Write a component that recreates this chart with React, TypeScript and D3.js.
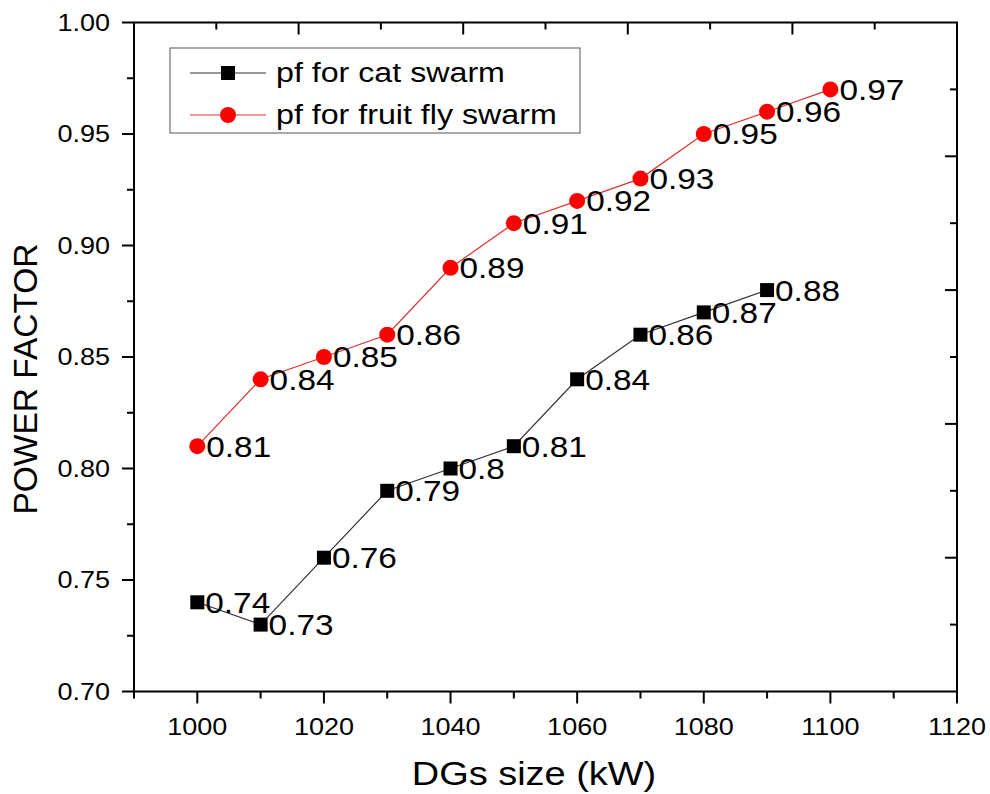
import * as d3 from 'd3';
import React, { useEffect, useRef } from 'react';

// DG sizes (kW) and power factor values
const catSizes = [1000, 1010, 1020, 1030, 1040, 1050, 1060, 1070, 1080, 1090];
const catPf = [0.74, 0.73, 0.76, 0.79, 0.8, 0.81, 0.84, 0.86, 0.87, 0.88];

const flySizes = [1000, 1010, 1020, 1030, 1040, 1050, 1060, 1070, 1080, 1090, 1100];
const flyPf = [0.81, 0.84, 0.85, 0.86, 0.89, 0.91, 0.92, 0.93, 0.95, 0.96, 0.97];

const xMajorTicks = [1000, 1020, 1040, 1060, 1080, 1100, 1120];
const xMinorTicks = [990, 1010, 1030, 1050, 1070, 1090, 1110];
const yMajorTicks = [0.7, 0.75, 0.8, 0.85, 0.9, 0.95, 1.0];
const yMinorTicks = [0.725, 0.775, 0.825, 0.875, 0.925, 0.975];
// the top / right mirror axes use their own 10-step scale
const mirrorMajor = [2, 4, 6, 8];
const mirrorMinor = [1, 3, 5, 7, 9];

const legendLabels = ['pf for cat swarm', 'pf for fruit fly swarm'];

const FONT = '"Liberation Sans", Arial, sans-serif';
const STRETCH = 1.15; // the original glyphs are a bit wider than Arial

export default function App() {
  const svgRef = useRef<SVGSVGElement | null>(null);
  const width = 990;
  const height = 794;

  useEffect(() => {
    const svg = d3.select(svgRef.current);
    svg.selectAll('*').remove();

    const margin = { top: 22.5, right: 33, bottom: 102.5, left: 134 };
    const x = d3
      .scaleLinear()
      .domain([990, 1120])
      .range([margin.left, width - margin.right]);
    const y = d3
      .scaleLinear()
      .domain([0.7, 1.0])
      .range([height - margin.bottom, margin.top]);
    const mx = d3.scaleLinear().domain([0, 10]).range(x.range());
    const my = d3.scaleLinear().domain([0, 10]).range([margin.top, height - margin.bottom]);

    const x0 = x.range()[0];
    const x1 = x.range()[1];
    const y0 = y.range()[0];
    const y1 = y.range()[1];
    const majorLen = 12;
    const minorLen = 7;

    // text helper, stretches horizontally around the anchor point
    const addText = (
      g: d3.Selection<any, unknown, null, undefined>,
      tx: number,
      ty: number,
      s: string,
      size: number,
      anchor: string
    ) =>
      g
        .append('text')
        .attr('transform', `translate(${tx},${ty}) scale(${STRETCH},1)`)
        .attr('text-anchor', anchor)
        .attr('font-family', FONT)
        .attr('font-size', size)
        .attr('fill', '#000')
        .text(s);

    const axes = svg.append('g').attr('stroke', '#000').attr('stroke-width', 2);

    // frame
    axes
      .append('rect')
      .attr('x', x0)
      .attr('y', y1)
      .attr('width', x1 - x0)
      .attr('height', y0 - y1)
      .attr('fill', 'none');

    // bottom ticks (outward)
    axes
      .selectAll('.xmaj')
      .data(xMajorTicks)
      .enter()
      .append('line')
      .attr('x1', (d) => x(d))
      .attr('x2', (d) => x(d))
      .attr('y1', y0)
      .attr('y2', y0 + majorLen);
    axes
      .selectAll('.xmin')
      .data(xMinorTicks)
      .enter()
      .append('line')
      .attr('x1', (d) => x(d))
      .attr('x2', (d) => x(d))
      .attr('y1', y0)
      .attr('y2', y0 + minorLen);

    // left ticks (outward)
    axes
      .selectAll('.ymaj')
      .data(yMajorTicks)
      .enter()
      .append('line')
      .attr('x1', x0 - majorLen)
      .attr('x2', x0)
      .attr('y1', (d) => y(d))
      .attr('y2', (d) => y(d));
    axes
      .selectAll('.ymin')
      .data(yMinorTicks)
      .enter()
      .append('line')
      .attr('x1', x0 - minorLen)
      .attr('x2', x0)
      .attr('y1', (d) => y(d))
      .attr('y2', (d) => y(d));

    // top ticks (inward)
    const topTicks = [
      ...mirrorMajor.map((v) => ({ v, len: majorLen })),
      ...mirrorMinor.map((v) => ({ v, len: minorLen }))
    ];
    axes
      .selectAll('.tt')
      .data(topTicks)
      .enter()
      .append('line')
      .attr('x1', (d) => mx(d.v))
      .attr('x2', (d) => mx(d.v))
      .attr('y1', y1)
      .attr('y2', (d) => y1 + d.len);

    // right ticks (inward)
    axes
      .selectAll('.rt')
      .data(topTicks)
      .enter()
      .append('line')
      .attr('x1', (d) => x1 - d.len)
      .attr('x2', x1)
      .attr('y1', (d) => my(d.v))
      .attr('y2', (d) => my(d.v));

    // tick labels
    const labels = svg.append('g');
    xMajorTicks.forEach((t) => addText(labels, x(t), 735, String(t), 23.5, 'middle'));
    yMajorTicks.forEach((t) =>
      addText(labels, 110, y(t), t.toFixed(2), 23.5, 'end').attr('dy', '0.36em')
    );

    // axis titles
    addText(labels, 534, 785, 'DGs size (kW)', 33, 'middle');
    labels
      .append('text')
      .attr('transform', `translate(37,${(y0 + y1) / 2 + 22}) rotate(-90)`)
      .attr('text-anchor', 'middle')
      .attr('font-family', FONT)
      .attr('font-size', 33.5)
      .text('POWER FACTOR');

    const line = d3
      .line<[number, number]>()
      .x((d) => x(d[0]))
      .y((d) => y(d[1]));

    const cat: [number, number][] = catSizes.map((s, i) => [s, catPf[i]]);
    const fly: [number, number][] = flySizes.map((s, i) => [s, flyPf[i]]);

    svg
      .append('path')
      .attr('d', line(cat))
      .attr('fill', 'none')
      .attr('stroke', '#333')
      .attr('stroke-width', 1.2);
    svg
      .append('path')
      .attr('d', line(fly))
      .attr('fill', 'none')
      .attr('stroke', '#e03030')
      .attr('stroke-width', 1.2);

    const sq = 14;
    svg
      .append('g')
      .selectAll('rect')
      .data(cat)
      .enter()
      .append('rect')
      .attr('x', (d) => x(d[0]) - sq / 2)
      .attr('y', (d) => y(d[1]) - sq / 2)
      .attr('width', sq)
      .attr('height', sq)
      .attr('fill', '#000');
    svg
      .append('g')
      .selectAll('circle')
      .data(fly)
      .enter()
      .append('circle')
      .attr('cx', (d) => x(d[0]))
      .attr('cy', (d) => y(d[1]))
      .attr('r', 8)
      .attr('fill', '#ff0000');

    // value labels
    const vl = svg.append('g');
    cat.forEach((d) =>
      addText(vl, x(d[0]) + 8, y(d[1]), String(d[1]), 29, 'start').attr('dy', '0.36em')
    );
    fly.forEach((d) =>
      addText(vl, x(d[0]) + 9, y(d[1]), String(d[1]), 29, 'start').attr('dy', '0.36em')
    );

    // legend
    const lg = svg.append('g');
    lg.append('rect')
      .attr('x', 170)
      .attr('y', 48)
      .attr('width', 410)
      .attr('height', 85)
      .attr('fill', '#fff')
      .attr('stroke', '#555')
      .attr('stroke-width', 1);
    const rows = [73, 115];
    const colors = ['#333', '#e03030'];
    legendLabels.forEach((lab, i) => {
      lg.append('line')
        .attr('x1', 190)
        .attr('x2', 266)
        .attr('y1', rows[i])
        .attr('y2', rows[i])
        .attr('stroke', colors[i])
        .attr('stroke-width', 1.2);
      if (i === 0) {
        lg.append('rect')
          .attr('x', 228 - sq / 2)
          .attr('y', rows[i] - sq / 2)
          .attr('width', sq)
          .attr('height', sq)
          .attr('fill', '#000');
      } else {
        lg.append('circle').attr('cx', 228).attr('cy', rows[i]).attr('r', 8).attr('fill', '#ff0000');
      }
      addText(lg, 276, rows[i], lab, 28, 'start').attr('dy', '0.33em');
    });
  }, []);

  return (
    <svg
      ref={svgRef}
      width={width}
      height={height}
      style={{ position: 'absolute', left: 0, top: 0, background: '#fff' }}
    />
  );
}
